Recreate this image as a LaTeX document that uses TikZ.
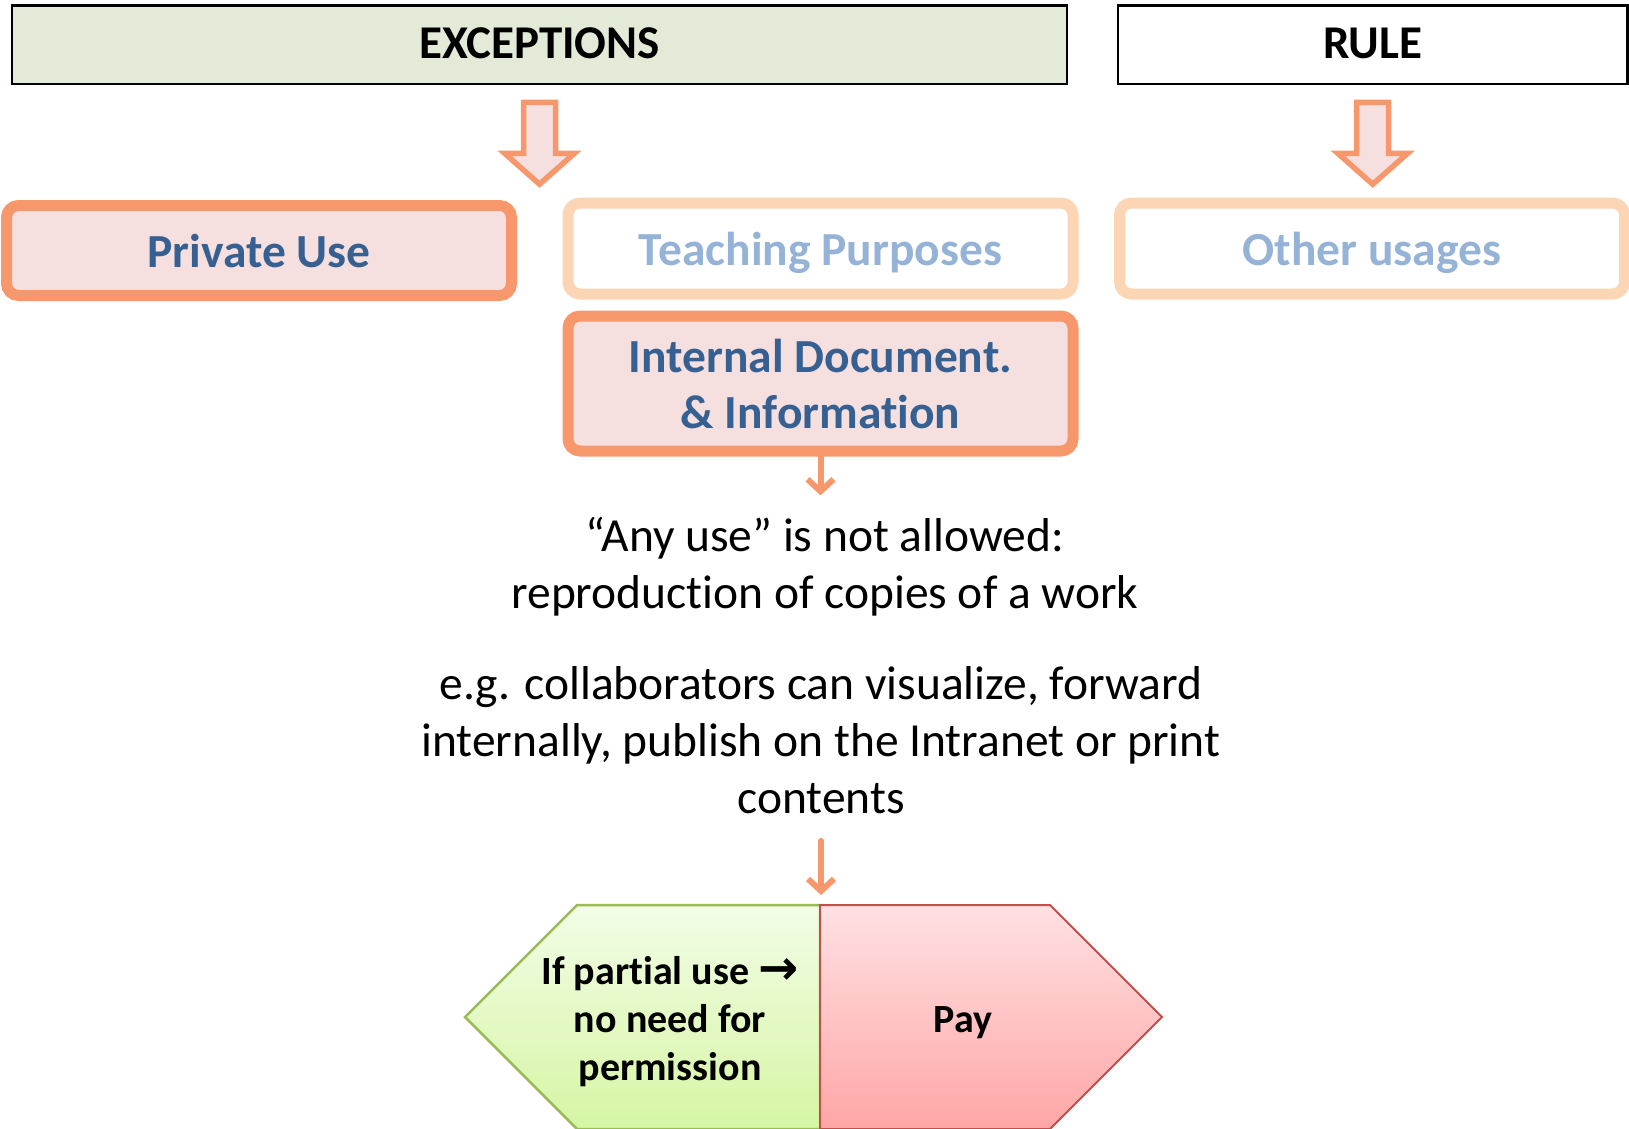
\documentclass[tikz,border=0pt]{standalone}
\usepackage{fontspec}
\setmainfont{Carlito}[Ligatures=NoCommon]
\newfontfamily\symfont{DejaVu Sans}
\usetikzlibrary{arrows.meta}
\definecolor{hdrgreen}{RGB}{227,234,216}
\definecolor{myorange}{RGB}{247,152,108}
\definecolor{mypink}{RGB}{245,224,223}
\definecolor{peach}{RGB}{252,213,180}
\definecolor{darkblue}{RGB}{55,96,146}
\definecolor{lightblue}{RGB}{149,179,215}
\definecolor{gborder}{RGB}{155,187,89}
\definecolor{gtop}{RGB}{242,253,230}
\definecolor{gbot}{RGB}{214,245,164}
\definecolor{rborder}{RGB}{192,80,77}
\definecolor{rtop}{RGB}{255,225,227}
\definecolor{rbot}{RGB}{255,166,166}
\tikzset{
  hdr/.style={draw=black, line width=2.5pt, inner sep=0pt, minimum height=78.5pt,
    font=\fontsize{47}{57}\selectfont\bfseries, text height=28pt, text depth=0pt},
  hotbox/.style={draw=myorange, fill=mypink, line width=11pt, rounded corners=12pt,
    inner sep=0pt, text=darkblue, minimum width=505pt, align=center,
    font=\fontsize{47.5}{56}\selectfont\bfseries},
  coolbox/.style={draw=peach, fill=white, line width=11pt, rounded corners=12pt,
    inner sep=0pt, text=lightblue, minimum width=505pt, minimum height=91pt,
    font=\fontsize{47.5}{56}\selectfont\bfseries, text height=34pt, text depth=0pt},
  bodytext/.style={inner sep=0pt, align=center, font=\fontsize{47.5}{57}\selectfont},
  hextext/.style={inner sep=0pt, align=center, font=\fontsize{40}{48}\selectfont\bfseries},
  barrow/.style={draw=myorange, fill=mypink, line width=5.5pt, miter limit=10},
  smallarrow/.style={draw=myorange, line cap=round,
    -{Straight Barb[length=12pt,width=26pt,line width=6pt]}},
  blockarrow/.pic={\draw[barrow] (-16,17) -- (16,17) -- (16,68) -- (35,68) -- (0,99)
    -- (-35,68) -- (-16,68) -- cycle;}
}
\begin{document}
\begin{tikzpicture}[x=1pt,y=-1pt]
\useasboundingbox (0,0) rectangle (1629,1128);
% headers
\node[hdr, fill=hdrgreen, minimum width=1055pt] (ex) at (539.5,44.75) {EXCEPTIONS};
\node[hdr, fill=white, minimum width=509.5pt] (rule) at (1372.7,44.75) {RULE};
% block arrows
\pic at (ex.south) {blockarrow};
\pic at (rule.south) {blockarrow};
% boxes
\node[hotbox, minimum height=90pt, text height=34pt, text depth=0pt] (priv) at (259,250.5) {Private Use};
\node[coolbox] (teach) at (820.5,248.5) {Teaching Purposes};
\node[coolbox] (other) at (1372,248.5) {Other usages};
\node[hotbox, minimum height=135pt] (int) at (820.5,383.5) {Internal Document.\\ \&~Information};
% texts
\node[bodytext] (txt1) at (825,567) {“Any use” is not allowed:\\ reproduction of copies of a work};
\node[bodytext] (txt2) at (821,740) {e.g. collaborators can visualize, forward\\ internally, publish on the Intranet or print\\ contents};
% hexagon
\coordinate (hex) at (820,905);
\path[draw=gborder, line width=2.5pt, top color=gtop, bottom color=gbot]
  (820,905) -- (577,905) -- (465,1017) -- (577,1129) -- (820,1129) -- cycle;
\path[draw=rborder, line width=2pt, top color=rtop, bottom color=rbot]
  (820,905) -- (1050,905) -- (1162,1017) -- (1050,1129) -- (820,1129) -- cycle;
\node[hextext] (partial) at (670,1022) {If partial use {\fontsize{48}{48}\selectfont\symfont\bfseries →}\\ no need for\\ permission};
\node[hextext] (pay) at (963,1023) {Pay};
% connectors
\draw[smallarrow, line width=6pt, shorten >=22pt] (int.south) -- (int.south |- txt1.north);
\draw[smallarrow, line width=6pt, shorten <=27pt, shorten >=10pt] (txt2.south) -- (txt2.south |- hex);
\end{tikzpicture}
\end{document}
